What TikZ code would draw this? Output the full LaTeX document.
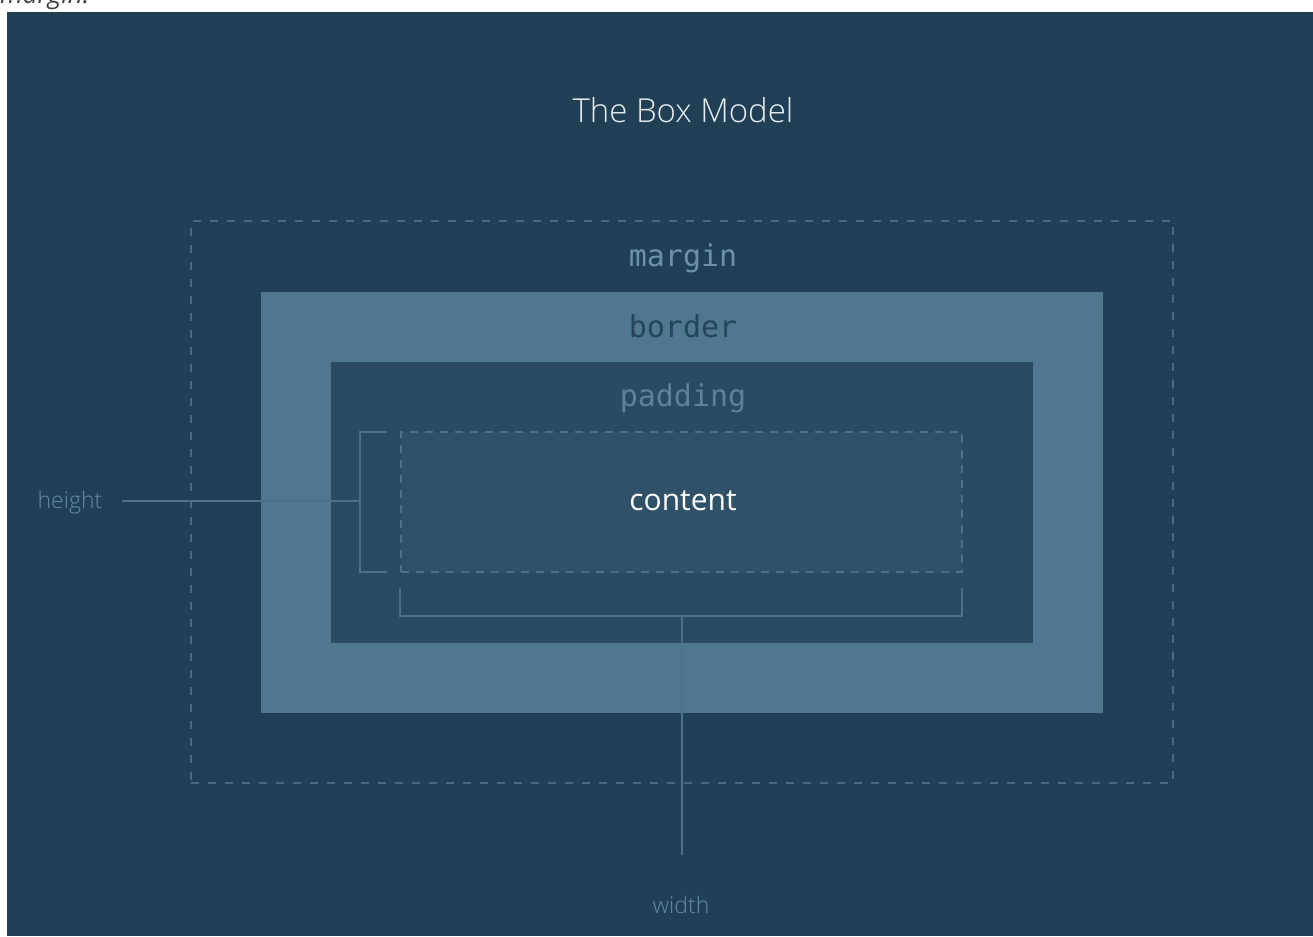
\documentclass[tikz,border=0pt]{standalone}
\usepackage{fontspec}
\setmainfont{Open Sans}
\newfontfamily\lightfont{Open Sans Light}
\newfontfamily\codefont{DejaVu Sans Mono}
\definecolor{bg}{HTML}{213F55}
\definecolor{bordercol}{HTML}{4F778D}
\definecolor{padcol}{HTML}{2B4B62}
\definecolor{contcol}{HTML}{2F5269}
\definecolor{dashcol}{HTML}{4B6A80}
\definecolor{cdash}{HTML}{4E7189}
\definecolor{linecol}{HTML}{4D7189}
\definecolor{marginlbl}{HTML}{6E91A5}
\definecolor{borderlbl}{HTML}{24445A}
\definecolor{padlbl}{HTML}{5E8299}
\definecolor{dimlbl}{HTML}{668CA2}
\definecolor{titlecol}{HTML}{E8EEF2}
\begin{document}
\begin{tikzpicture}[x=1pt,y=-1pt,
  box/.style={inner sep=0pt, outer sep=0pt},
  codelbl/.style={anchor=base, font=\codefont\fontsize{30}{34}\selectfont},
  dimtext/.style={anchor=base, text=dimlbl, font=\lightfont\fontsize{23}{27}\selectfont},
  dimline/.style={draw=linecol, line width=2pt}]
\useasboundingbox (0,0) rectangle (1313,936);
\fill[white] (0,0) rectangle (1313,936);
\begin{scope}
  \clip (0,0) rectangle (1313,12);
  \node (cut) [anchor=base west, inner sep=0pt, text=black!75, font=\itshape\fontsize{26}{30}\selectfont] at (0,4) {margin.};
\end{scope}
\fill[bg] (7,12) rectangle (1313,936);
% boxes
\node (marginbox) [box, draw=dashcol, line width=1.5pt, dash pattern=on 8pt off 9pt,
  minimum width=982pt, minimum height=562pt] at (682,502) {};
\node (borderbox) [box, fill=bordercol, minimum width=842pt, minimum height=421pt] at (682,502.5) {};
\node (padbox) [box, fill=padcol, minimum width=702pt, minimum height=281pt] at (682,502.5) {};
\node (contbox) [box, fill=contcol, draw=cdash, line width=1.5pt, dash pattern=on 8pt off 7pt,
  minimum width=561pt, minimum height=140pt] at (681.5,502) {};
% labels
\node (title) [anchor=base, text=titlecol, font=\lightfont\fontsize{33}{38}\selectfont] at (683,123) {The Box Model};
\node (mlbl) [codelbl, text=marginlbl] at (683,266) {margin};
\node (blbl) [codelbl, text=borderlbl] at (683,337) {border};
\node (plbl) [codelbl, text=padlbl] at (683,406) {padding};
\node (clbl) [anchor=base, text=white, font=\fontsize{30}{36}\selectfont] at (683,510) {content};
\node (hlbl) [dimtext] at (70,508) {height};
\node (wlbl) [dimtext] at (681,913) {width};
% height bracket
\coordinate (htop) at (387,432);
\coordinate (hbot) at (387,572);
\coordinate (hmid) at (360,501);
\coordinate (hstart) at (122,501);
\draw[dimline] (htop) -- (360,432) -- (360,572) -- (hbot);
\draw[dimline] (hstart) -- (hmid);
% width bracket
\coordinate (wl) at (400,588);
\coordinate (wr) at (962,588);
\coordinate (wmid) at (682,616);
\coordinate (wend) at (682,855);
\draw[dimline] (wl) -- (400,616) -- (962,616) -- (wr);
\draw[dimline] (wmid) -- (wend);
\end{tikzpicture}
\end{document}
